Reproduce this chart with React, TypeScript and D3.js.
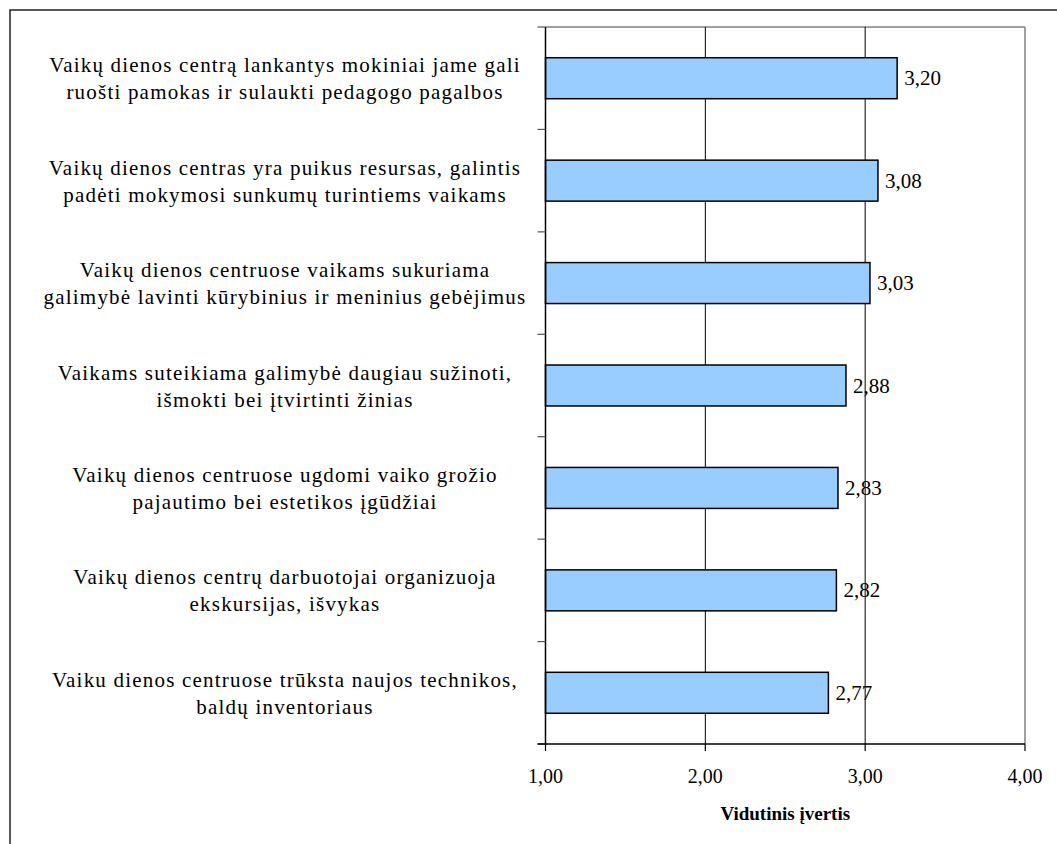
import React from "react";
import * as d3 from "d3";

const categories: string[][] = [
  ["Vaikų dienos centrą lankantys mokiniai jame gali", "ruošti pamokas ir sulaukti pedagogo pagalbos"],
  ["Vaikų dienos centras yra puikus resursas, galintis", "padėti mokymosi sunkumų turintiems vaikams"],
  ["Vaikų dienos centruose vaikams sukuriama", "galimybė lavinti kūrybinius ir meninius gebėjimus"],
  ["Vaikams suteikiama galimybė daugiau sužinoti,", "išmokti bei įtvirtinti žinias"],
  ["Vaikų dienos centruose ugdomi vaiko grožio", "pajautimo bei estetikos įgūdžiai"],
  ["Vaikų dienos centrų darbuotojai organizuoja", "ekskursijas, išvykas"],
  ["Vaiku dienos centruose trūksta naujos technikos,", "baldų inventoriaus"],
];
const values: number[] = [3.2, 3.08, 3.03, 2.88, 2.83, 2.82, 2.77];
const xTicks: number[] = [1, 2, 3, 4];
const xTitle = "Vidutinis įvertis";

const W = 1057;
const H = 844;
const plot = { left: 545.5, right: 1025, top: 27, bottom: 744 };
const FONT = "'Liberation Serif', 'Times New Roman', serif";
const fmt = (v: number) => v.toFixed(2).replace(".", ",");

export default function App() {
  const x = d3.scaleLinear().domain([1, 4]).range([plot.left, plot.right]);
  const idx = categories.map((_, i) => String(i));
  const y = d3.scaleBand().domain(idx).range([plot.top, plot.bottom]).paddingInner(0.6).paddingOuter(0.3);
  const band = d3.scaleBand().domain(idx).range([plot.top, plot.bottom]);
  const labelX = 285;

  return (
    <div style={{ position: "absolute", left: 0, top: 0 }}>
      <svg width={W} height={H} style={{ display: "block", background: "#fff" }}>
        <rect x={10} y={10} width={1100} height={900} fill="#fff" stroke="#222" strokeWidth={1.5} />
        {/* plot area border */}
        <line x1={plot.left} x2={plot.right} y1={plot.top} y2={plot.top} stroke="#808080" strokeWidth={1.5} />
        <line x1={plot.right} x2={plot.right} y1={plot.top} y2={plot.bottom} stroke="#808080" strokeWidth={1.5} />
        {/* gridlines */}
        {xTicks.slice(1, -1).map((t) => (
          <line key={t} x1={x(t)} x2={x(t)} y1={plot.top} y2={plot.bottom} stroke="#000" strokeWidth={1} />
        ))}
        {/* bars */}
        {values.map((v, i) => (
          <rect
            key={i}
            x={x(1)}
            y={y(String(i))!}
            width={x(v) - x(1)}
            height={y.bandwidth()}
            fill="#99CCFF"
            stroke="#000"
            strokeWidth={1.5}
          />
        ))}
        {/* value labels */}
        {values.map((v, i) => (
          <text
            key={i}
            x={x(v) + 7}
            y={band(String(i))! + band.bandwidth() / 2 + 7}
            fontFamily={FONT}
            fontSize={21}
            fill="#000"
          >
            {fmt(v)}
          </text>
        ))}
        {/* y axis */}
        <line x1={plot.left} x2={plot.left} y1={plot.top} y2={plot.bottom} stroke="#000" strokeWidth={1.5} />
        {d3.range(categories.length + 1).map((k) => {
          const yy = plot.top + k * band.step();
          return <line key={k} x1={plot.left - 8} x2={plot.left} y1={yy} y2={yy} stroke="#555" strokeWidth={1.2} />;
        })}
        {/* x axis */}
        <line x1={plot.left - 8} x2={plot.right} y1={plot.bottom} y2={plot.bottom} stroke="#000" strokeWidth={1.5} />
        {xTicks.map((t) => (
          <g key={t}>
            <line x1={x(t)} x2={x(t)} y1={plot.bottom} y2={plot.bottom + 7} stroke="#000" strokeWidth={1.2} />
            <text x={x(t)} y={783} textAnchor="middle" fontFamily={FONT} fontSize={20} fill="#000">
              {fmt(t)}
            </text>
          </g>
        ))}
        <text
          x={(plot.left + plot.right) / 2}
          y={820}
          textAnchor="middle"
          fontFamily={FONT}
          fontSize={19}
          fontWeight="bold"
          fill="#000"
        >
          {xTitle}
        </text>
        {/* category labels */}
        {categories.map((lines, i) => {
          const cy = band(String(i))! + band.bandwidth() / 2;
          return (
            <text key={i} textAnchor="middle" fontFamily={FONT} fontSize={21} letterSpacing={1.2} fill="#000">
              {lines.map((l, j) => (
                <tspan key={j} x={labelX} y={cy - 6 + j * 27}>
                  {l}
                </tspan>
              ))}
            </text>
          );
        })}
      </svg>
    </div>
  );
}
